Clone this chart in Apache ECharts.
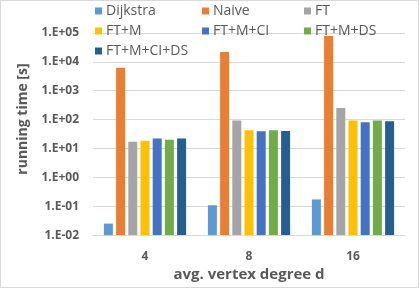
<!DOCTYPE html>
<html><head><meta charset="utf-8">
<script src="https://cdn.jsdelivr.net/npm/echarts@6/dist/echarts.min.js"></script>
<style>html,body{margin:0;padding:0;background:#fff}#c{width:417px;height:286px;border:1px solid #d9d9d9}</style>
</head><body><div id="c"></div>
<script>
const categories = ['4', '8', '16'];
const seriesNames = ['Dijkstra', 'Naive', 'FT', 'FT+M', 'FT+M+CI', 'FT+M+DS', 'FT+M+CI+DS'];
const dijkstra = [0.025, 0.108, 0.172];
const naive = [6300, 21800, 79000];
const ft = [17, 93, 254];
const ftM = [18.6, 42.6, 93];
const ftMCI = [22, 39.5, 81];
const ftMDS = [20, 42.6, 93];
const ftMCIDS = [22, 40, 87];
const yTicks = ['1.E-02', '1.E-01', '1.E+00', '1.E+01', '1.E+02', '1.E+03', '1.E+04', '1.E+05'];
const colors = ['#5B9BD5', '#ED7D31', '#A5A5A5', '#FFC000', '#4472C4', '#70AD47', '#255E91'];
const values = [dijkstra, naive, ft, ftM, ftMCI, ftMDS, ftMCIDS];

const Y_MIN = 0.01, Y_MAX = 100000;
const BAR_W = 9, BAR_STEP = 12.2, N = seriesNames.length;

const chart = echarts.init(document.getElementById('c'));
const legendBase = {orient: 'vertical', itemWidth: 7, itemHeight: 7, itemGap: 6, icon: 'rect',
  textStyle: {color: '#595959', fontSize: 14, fontFamily: 'Open Sans', lineHeight: 14, padding: [0, 0, 0, -1]}, top: -2};
chart.setOption({
  animation: false,
  color: colors,
  legend: [
    Object.assign({}, legendBase, {left: 89, data: ['Dijkstra', 'FT+M', 'FT+M+CI+DS']}),
    Object.assign({}, legendBase, {left: 196, data: ['Naive', 'FT+M+CI']}),
    Object.assign({}, legendBase, {left: 298, data: ['FT', 'FT+M+DS']})
  ],
  grid: {left: 92, right: 13, top: 32, bottom: 48},
  xAxis: {type: 'category', data: categories,
    axisLine: {lineStyle: {color: '#d9d9d9'}}, axisTick: {show: false},
    axisLabel: {color: '#595959', fontWeight: 'bold', fontSize: 12, margin: 15, fontFamily: 'Open Sans'},
    name: 'avg. vertex degree d', nameLocation: 'middle', nameGap: 31,
    nameTextStyle: {color: '#595959', fontWeight: 'bold', fontSize: 15, fontFamily: 'Open Sans'}},
  yAxis: {type: 'log', min: Y_MIN, max: Y_MAX, logBase: 10,
    axisLine: {show: false}, axisTick: {show: false},
    splitLine: {lineStyle: {color: '#d9d9d9'}},
    axisLabel: {color: '#595959', fontWeight: 'bold', fontSize: 12, margin: 14, fontFamily: 'Open Sans',
      formatter: v => yTicks[Math.round(Math.log10(v)) + 2]},
    name: 'running time [s]', nameLocation: 'middle', nameGap: 63, nameRotate: 90,
    nameTextStyle: {color: '#595959', fontWeight: 'bold', fontSize: 14, fontFamily: 'Open Sans', padding: [0, 0, 0, 30]}},
  series: seriesNames.map((n, i) => ({
    name: n, type: 'custom', itemStyle: {color: colors[i]},
    data: values[i].map((v, j) => [j, v]),
    encode: {x: 0, y: 1},
    renderItem: (params, api) => {
      const top = api.coord([api.value(0), api.value(1)]);
      const base = api.coord([api.value(0), Y_MIN]);
      const cx = top[0] + (i - (N - 1) / 2) * BAR_STEP;
      return {type: 'rect', shape: {x: cx - BAR_W / 2, y: top[1], width: BAR_W, height: base[1] - top[1]},
        style: {fill: colors[i]}};
    }
  }))
});
</script></body></html>
